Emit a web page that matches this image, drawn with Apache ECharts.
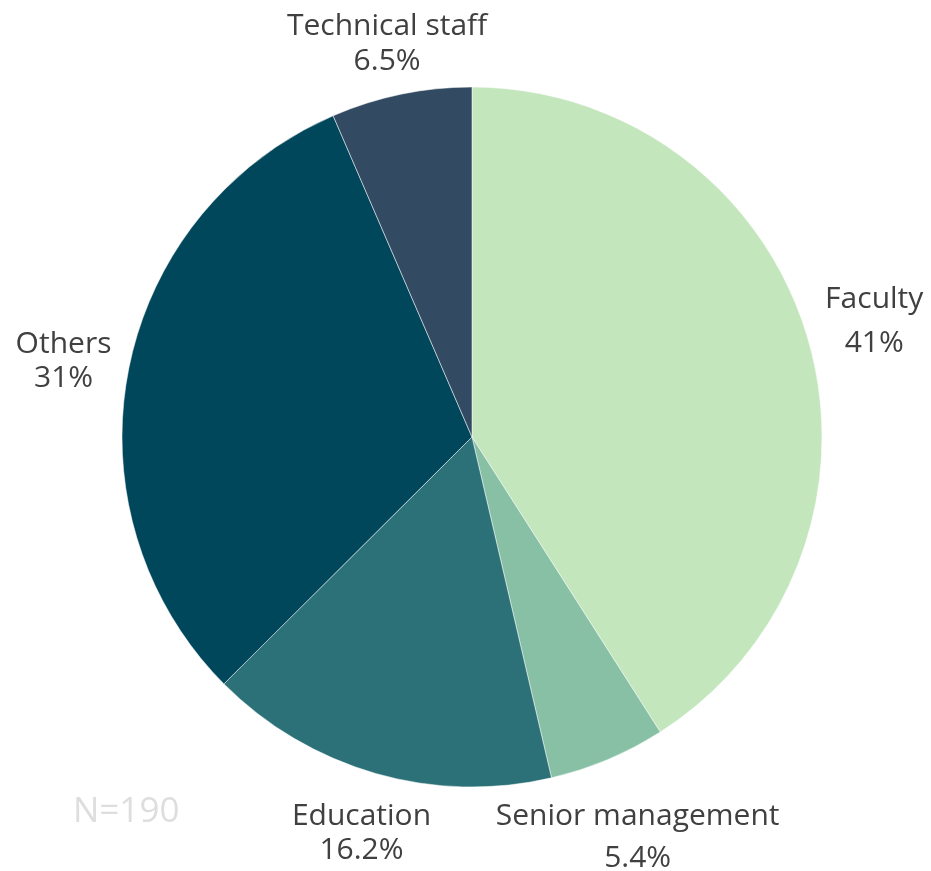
<!DOCTYPE html>
<html>
<head>
<meta charset="utf-8">
<script src="https://cdn.jsdelivr.net/npm/echarts@6/dist/echarts.min.js"></script>
<style>html,body{margin:0;padding:0;background:#fff;}#c{width:931px;height:871px;}</style>
</head>
<body>
<div id="c"></div>
<script>
const categories = ['Faculty', 'Senior management', 'Education', 'Others', 'Technical staff'];
const values = [41, 5.4, 16.2, 31, 6.5];
const valueLabels = ['41%', '5.4%', '16.2%', '31%', '6.5%'];
const colors = ['#c3e6bd', '#88c0a5', '#2d7178', '#01475c', '#334a63'];
const labelLineHeights = [44, 42, 34, 34, 35];
const labelNudges = [[0, 0], [3, 12], [5, -8], [3, 2], [0, 15]];
const note = 'N=190';

const chart = echarts.init(document.getElementById('c'));
const pieData = categories.map((c, i) => ({ name: c, value: values[i], itemStyle: { color: colors[i] } }));
const labelData = categories.map((c, i) => ({
  name: c, value: values[i],
  label: { formatter: c + '\n' + valueLabels[i], lineHeight: labelLineHeights[i], offset: labelNudges[i] }
}));
chart.setOption({
  animation: false,
  series: [
    {
      type: 'pie',
      center: [472, 437],
      radius: [0, 350],
      startAngle: 90,
      clockwise: true,
      silent: true,
      label: { show: false },
      labelLine: { show: false },
      itemStyle: { borderColor: '#fff', borderWidth: 0.5 },
      data: pieData
    },
    {
      type: 'pie',
      center: [472, 439],
      radius: [400, 432],
      startAngle: 90,
      clockwise: true,
      silent: true,
      itemStyle: { color: 'rgba(0,0,0,0)' },
      label: {
        show: true,
        position: 'inside',
        rotate: 0,
        fontFamily: 'Open Sans',
        fontSize: 30,
        color: '#404040',
        align: 'center'
      },
      labelLine: { show: false },
      data: labelData
    }
  ],
  graphic: [{
    type: 'text',
    x: 73,
    y: 812,
    style: { text: note, fontFamily: 'Open Sans', fontSize: 35, fill: '#dedede', verticalAlign: 'middle' }
  }]
});
</script>
</body>
</html>
